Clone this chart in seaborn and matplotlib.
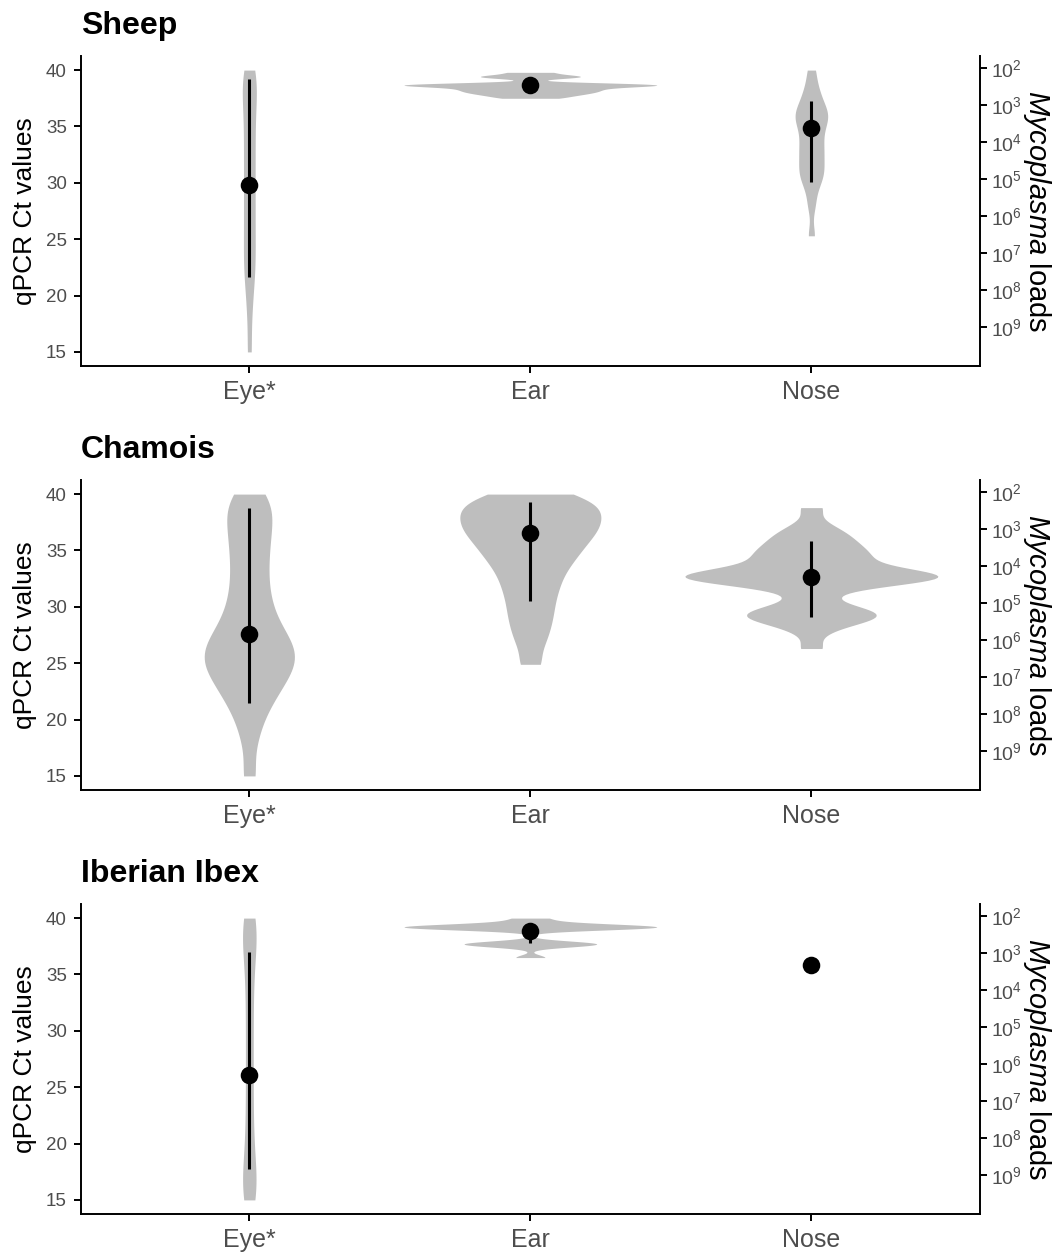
"""
Violin plots of qPCR Ct values per sampling site (eye, ear, nose) for
sheep, chamois and Iberian ibex, with a secondary axis showing the
matching Mycoplasma load from the qPCR standard curve.

Output:
    out.png
"""
import numpy as np
import pandas as pd
import matplotlib
matplotlib.use("Agg")
import matplotlib.pyplot as plt
import seaborn as sns

SITES = ["Eye*", "Ear", "Nose"]
SPECIES = ["Sheep", "Chamois", "Iberian Ibex"]

# Ct values per species and site (estimated from the published figure)
SHEEP_EYE = [15.0, 18.6, 21.0, 22.2, 23.4, 24.7, 26.0, 27.3, 28.6, 29.9, 31.2,
             32.5, 33.8, 35.1, 36.4, 37.6, 38.6, 39.4, 40.0]
SHEEP_EAR = [37.5, 37.7, 37.85, 37.97, 38.08, 38.18, 38.28, 38.38, 38.48,
             38.58, 38.62, 38.66, 38.7, 38.74, 38.78, 38.82, 39.32, 39.42, 39.52,
             39.8]
SHEEP_NOSE = [25.3, 28.0, 29.5, 30.3, 30.8, 31.2, 31.8, 32.4, 32.9, 33.4, 34.0,
              34.6, 35.2, 35.6, 35.9, 36.2, 36.6, 37.1, 37.8, 38.6, 40.0]

CHAMOIS_EYE = [15.0, 18.4, 20.3, 21.4, 22.2, 22.9, 23.5, 24.0, 24.5, 24.9, 25.3,
               25.7, 26.1, 26.5, 26.9, 27.4, 28.0, 28.7, 29.5, 30.4, 31.4, 32.5,
               33.6, 34.7, 35.7, 36.7, 37.6, 38.5, 39.3, 40.0]
CHAMOIS_EAR = [24.9, 26.8, 28.0, 29.0, 29.9, 30.8, 31.6, 32.3, 33.0, 33.6, 34.1,
               34.6, 35.0, 35.4, 35.8, 36.2, 36.5, 36.8, 37.1, 37.4, 37.7, 38.0,
               38.3, 38.6, 38.9, 39.2, 39.5, 39.8, 40.0]
CHAMOIS_NOSE = [26.3, 27.9, 28.6, 28.9, 29.1, 29.25, 29.4, 29.55, 29.8, 30.4,
                31.5, 31.9, 32.3, 32.5, 32.6, 32.6, 32.62, 32.65, 32.68, 32.7,
                32.7, 32.8, 33.0, 33.3, 33.7, 34.0, 34.3, 34.5, 34.8, 35.1,
                35.4, 35.8, 36.2, 36.6, 37.2, 38.8]

IBEX_EYE = [15.0, 15.4, 16.0, 16.8, 17.9, 19.3, 21.0, 22.8, 24.7, 26.6, 28.5,
            30.4, 32.3, 34.1, 35.8, 37.2, 38.3, 39.1, 39.6, 40.0]
IBEX_EAR = [36.5, 37.55, 37.63, 37.7, 37.77, 37.85, 39.05, 39.1, 39.15, 39.18,
            39.2, 39.22, 39.25, 39.3, 39.35, 39.6, 40.0]
IBEX_NOSE = [35.83]

# summary point and interval drawn on top of each violin (Ct)
SHEEP_MID = [29.83, 38.67, 34.84]
SHEEP_LOW = [21.67, 38.2, 30.03]
SHEEP_HIGH = [39.18, 39.1, 37.26]
CHAMOIS_MID = [27.59, 36.52, 32.64]
CHAMOIS_LOW = [21.47, 30.53, 29.06]
CHAMOIS_HIGH = [38.77, 39.26, 35.88]
IBEX_MID = [26.12, 38.86, 35.83]
IBEX_LOW = [17.71, 37.8, np.nan]
IBEX_HIGH = [37.0, 39.4, np.nan]

# standard curve: Ct = intercept + slope * log10(load)
LOAD_EXP = [2, 3, 4, 5, 6, 7, 8, 9]
CURVE_SLOPE = -3.28
CURVE_INTERCEPT = 46.75

CT_TICKS = [15, 20, 25, 30, 35, 40]
VIOLIN_GREY = "#BEBEBE"
TICK_GREY = "#4D4D4D"

sns.set_theme(style="ticks")
plt.rcParams["font.family"] = ["Liberation Sans", "DejaVu Sans"]
plt.rcParams["text.color"] = "black"
plt.rcParams["axes.labelcolor"] = "black"
plt.rcParams["mathtext.fontset"] = "custom"
plt.rcParams["mathtext.rm"] = "Liberation Sans"
plt.rcParams["mathtext.it"] = "Liberation Sans:italic"


def long_frame(site_values):
    rows = []
    for site, vals in zip(SITES, site_values):
        # a single observation gives no violin (as in ggplot)
        if len(vals) < 2:
            continue
        rows += [{"site": site, "ct": v} for v in vals]
    return pd.DataFrame(rows)


def draw_panel(ax, title, site_values, mid, low, high):
    df = long_frame(site_values)
    sns.violinplot(data=df, x="site", y="ct", order=SITES, color=VIOLIN_GREY,
                   saturation=1, linewidth=0, linecolor=VIOLIN_GREY, inner=None,
                   cut=0, density_norm="area", width=0.9, bw_method=0.25, ax=ax)

    pos = np.arange(len(SITES))
    low = np.asarray(low, dtype=float)
    high = np.asarray(high, dtype=float)
    ok = ~np.isnan(low)
    ax.vlines(pos[ok], low[ok], high[ok], color="black", lw=2.2, zorder=3)
    ax.scatter(pos, mid, s=160, color="black", zorder=4, linewidths=0)

    ax.set_xlim(-0.6, 2.6)
    ax.set_ylim(13.75, 41.25)
    ax.set_yticks(CT_TICKS)
    ax.set_xticks(pos)
    ax.set_xticklabels(SITES)
    ax.set_xlabel("")
    ax.set_ylabel("qPCR Ct values", fontsize=19, labelpad=6)
    ax.set_title(title, loc="left", fontsize=23, fontweight="bold", pad=16)

    for side in ("top", "right"):
        ax.spines[side].set_visible(False)
    for side in ("left", "bottom"):
        ax.spines[side].set_linewidth(1.4)
        ax.spines[side].set_color("black")
    ax.tick_params(axis="both", direction="out", length=5, width=1.4,
                   color="black", pad=5, labelcolor=TICK_GREY)
    ax.tick_params(axis="y", labelsize=13.5)
    ax.tick_params(axis="x", labelsize=18)

    # right axis: load equivalent of the Ct scale
    ax2 = ax.twinx()
    ax2.set_ylim(ax.get_ylim())
    ax2.set_yticks([CURVE_INTERCEPT + CURVE_SLOPE * e for e in LOAD_EXP])
    ax2.set_yticklabels([f"$10^{{{e}}}$" for e in LOAD_EXP])
    ax2.set_ylabel(r"$\it{Mycoplasma}$ loads", fontsize=21, rotation=270,
                   labelpad=22)
    for side in ("top", "left", "bottom"):
        ax2.spines[side].set_visible(False)
    ax2.spines["right"].set_linewidth(1.4)
    ax2.spines["right"].set_color("black")
    ax2.tick_params(axis="y", direction="out", length=5, width=1.4,
                    color="black", pad=3, labelsize=14, labelcolor=TICK_GREY)


fig = plt.figure(figsize=(10.63, 12.56), dpi=100)
left, width, height = 80.7 / 1063, 899.3 / 1063, 310 / 1256
bottoms = [1 - 366 / 1256, 1 - 790 / 1256, 1 - 1214 / 1256]

panels = [
    ([SHEEP_EYE, SHEEP_EAR, SHEEP_NOSE], SHEEP_MID, SHEEP_LOW, SHEEP_HIGH),
    ([CHAMOIS_EYE, CHAMOIS_EAR, CHAMOIS_NOSE], CHAMOIS_MID, CHAMOIS_LOW, CHAMOIS_HIGH),
    ([IBEX_EYE, IBEX_EAR, IBEX_NOSE], IBEX_MID, IBEX_LOW, IBEX_HIGH),
]

for title, bottom, (vals, mid, low, high) in zip(SPECIES, bottoms, panels):
    ax = fig.add_axes([left, bottom, width, height])
    draw_panel(ax, title, vals, mid, low, high)

fig.savefig("out.png", dpi=100)
